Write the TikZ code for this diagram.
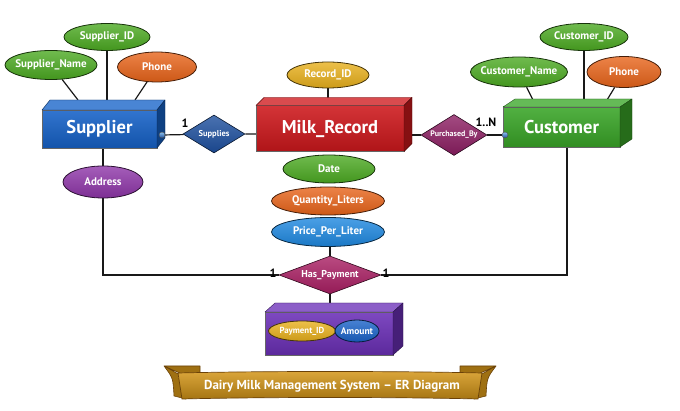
\documentclass[tikz,border=0pt]{standalone}
\usepackage{fontspec}
\setmainfont{PT Sans}
\usetikzlibrary{shapes.geometric, backgrounds, positioning}

\definecolor{supC}{RGB}{22,98,200}
\definecolor{milkC}{RGB}{206,24,28}
\definecolor{custC}{RGB}{58,166,40}
\definecolor{payC}{RGB}{108,48,184}
\definecolor{attrGreen}{RGB}{76,170,34}
\definecolor{attrOrange}{RGB}{232,100,26}
\definecolor{attrGold}{RGB}{232,176,28}
\definecolor{attrPurple}{RGB}{142,53,168}
\definecolor{attrBlue}{RGB}{30,136,224}
\definecolor{attrNavy}{RGB}{26,98,200}
\definecolor{relBlue}{RGB}{29,79,158}
\definecolor{relPlum}{RGB}{140,30,98}
\definecolor{relRose}{RGB}{168,30,98}
\definecolor{bannerC}{RGB}{212,150,24}
\definecolor{bannerLine}{RGB}{107,66,8}

\tikzset{
  entbox/.style = {rectangle, outer sep=0pt, inner sep=0pt, draw=black!60,
                   text=white, font=\fontsize{18.5}{20}\selectfont\bfseries},
  attr/.style   = {ellipse, inner sep=0pt, inner xsep=-4pt, line width=0.8pt,
                   text=white, font=\fontsize{11}{13}\selectfont\bfseries},
  rel/.style    = {diamond, aspect=2, inner sep=0pt, line width=0.6pt,
                   text=white, font=\fontsize{8.5}{10}\selectfont\bfseries},
  glossy/.style = {top color=#1!80!white, bottom color=#1!88!black,
                   draw=#1!30!black},
  card/.style   = {font=\fontsize{12}{14}\selectfont\bfseries, inner sep=1pt},
  link/.style   = {line width=1.2pt, black!90},
  jdot/.style   = {circle, inner sep=0pt, minimum size=6pt,
                   top color=attrBlue!50!white, bottom color=relBlue,
                   draw=black!70, line width=0.4pt}
}

% 3-D entity block: name, x, y, width, height, colour, label, depth x, depth y
\newcommand{\drawentity}[9]{%
  \node[entbox, top color=#6!88!white, bottom color=#6!85!black,
        minimum width=#4, minimum height=#5] (#1) at (#2,#3) {#7};
  \fill[#6!78!white, draw=#6!45!black, line join=round]
    (#1.north west) -- ++(#8,-#9) -- ([shift={(#8,-#9)}]#1.north east)
    -- (#1.north east) -- cycle;
  \fill[#6!65!black, draw=#6!40!black, line join=round]
    (#1.north east) -- ++(#8,-#9) -- ([shift={(#8,-#9)}]#1.south east)
    -- (#1.south east) -- cycle;
}

\begin{document}
\begin{tikzpicture}[x=1pt, y=-1pt]
  \useasboundingbox (0,0) rectangle (680,411);

  %% ── Entities ──────────────────────────────────────────────────
  \drawentity{supplier}{99.5}{129}{115pt}{38pt}{supC}{Supplier}{8}{10}
  \drawentity{milkrec}{330}{128.5}{148pt}{46pt}{milkC}{Milk\_Record}{8}{8}
  \drawentity{customer}{561.5}{127}{117pt}{40pt}{custC}{Customer}{12}{8}
  \drawentity{payment}{329}{333.5}{128pt}{43pt}{payC}{}{10}{9}

  \node[jdot] (sdot) at (162,135) {};
  \node[jdot] (cdot) at (505,135) {};

  %% ── Supplier attributes ───────────────────────────────────────
  \node[attr, glossy=attrGreen, minimum width=86pt, minimum height=27pt]
    (supid) at (107,37) {Supplier\_ID};
  \node[attr, glossy=attrGreen, minimum width=92pt, minimum height=29pt]
    (supname) at (51,65) {Supplier\_Name};
  \node[attr, glossy=attrOrange, minimum width=79pt, minimum height=30pt]
    (supphone) at (157,67) {Phone};
  \node[attr, glossy=attrPurple, minimum width=80pt, minimum height=32pt]
    (address) at (103,182) {Address};

  %% ── Milk_Record attributes ────────────────────────────────────
  \node[attr, glossy=attrGold, minimum width=82pt, minimum height=26pt]
    (recid) at (328,75) {Record\_ID};
  \node[attr, glossy=attrGreen, minimum width=92pt, minimum height=28pt]
    (date) at (329,169) {Date};
  \node[attr, glossy=attrOrange, minimum width=113pt, minimum height=28pt]
    (qty) at (328,201) {Quantity\_Liters};
  \node[attr, glossy=attrBlue, minimum width=113pt, minimum height=29pt]
    (price) at (328,232) {Price\_Per\_Liter};

  %% ── Customer attributes ───────────────────────────────────────
  \node[attr, glossy=attrGreen, minimum width=88pt, minimum height=27pt]
    (custid) at (584,37) {Customer\_ID};
  \node[attr, glossy=attrGreen, minimum width=93pt, minimum height=30pt]
    (custname) at (519,72) {Customer\_Name};
  \node[attr, glossy=attrOrange, minimum width=74pt, minimum height=31pt]
    (custphone) at (624,72) {Phone};

  %% ── Payment attributes ────────────────────────────────────────
  \node[attr, glossy=attrGold, minimum width=67pt, minimum height=20pt,
        font=\fontsize{8.8}{10}\selectfont\bfseries]
    (payid) at (302,331) {Payment\_ID};
  \node[attr, glossy=attrNavy, minimum width=44pt, minimum height=22pt,
        font=\fontsize{9.5}{11}\selectfont\bfseries]
    (amount) at (357,331) {Amount};

  %% ── Relationships ─────────────────────────────────────────────
  \node[rel, glossy=relBlue, minimum width=62pt, minimum height=38pt]
    (supplies) at (214,134) {Supplies};
  \node[rel, glossy=relPlum, minimum width=66pt, minimum height=41pt,
        font=\fontsize{8}{10}\selectfont\bfseries]
    (purchased) at (454,135) {Purchased\_By};
  \node[rel, glossy=relRose, minimum width=102pt, minimum height=38pt,
        font=\fontsize{10}{12}\selectfont\bfseries]
    (haspay) at (330,275) {Has\_Payment};

  %% ── Cardinalities ─────────────────────────────────────────────
  \node[card] (c1) at (185,123) {1};
  \node[card] (c2) at (486,122) {1..N};
  \node[card] (c3) at (273,273) {1};
  \node[card] (c4) at (386,273) {1};

  %% ── Title banner ──────────────────────────────────────────────
  \fill[bannerC!75!black, draw=bannerLine, line width=0.6pt, line join=round]
    (164,366) -- (200,366) -- (200,375) -- (180,375) -- cycle
    (164,366) .. controls (173,378) .. (174,396) -- (186,399) -- (182,374) -- cycle;
  \fill[bannerC!75!black, draw=bannerLine, line width=0.6pt, line join=round]
    (496,366) -- (460,366) -- (460,375) -- (480,375) -- cycle
    (496,366) .. controls (487,378) .. (486,396) -- (474,399) -- (478,374) -- cycle;
  \path[top color=bannerC!85!white, bottom color=bannerC!78!black,
        draw=bannerLine, line width=0.7pt]
    (178,373) .. controls (260,371) and (400,371) .. (482,373)
    -- (478,399) .. controls (400,397) and (260,397) .. (182,399) -- cycle;
  \node[text=white, font=\fontsize{13}{15}\selectfont\bfseries]
    (banner) at (332,386) {Dairy Milk Management System – ER Diagram};

  %% ── Connectors ────────────────────────────────────────────────
  \begin{scope}[on background layer]
    \draw[link] (supid) -- (supid |- supplier.center);
    \draw[link] (supname) -- ([shift={(36,-10)}]supplier.north west);
    \draw[link] (supphone) -- ([shift={(-22,-10)}]supplier.north east);
    \draw[link] (address) -- (address |- supplier.center);
    \draw[link] (address) |- (haspay);
    \draw[link] (sdot) -- (supplies) -- (supplies -| milkrec);
    \draw[link] (recid) -- (recid |- milkrec.center);
    \draw[link] (milkrec.center |- purchased) -- (purchased) -- (cdot);
    \draw[link] (custid) -- (custid |- customer.center);
    \draw[link] (custname) -- ([shift={(30,-7)}]customer.north west);
    \draw[link] (custphone) -- ([shift={(-13,-7)}]customer.north east);
    \draw[link] ([xshift=5.5pt]customer.center) |- (haspay);
    \draw[link] (haspay) -- (haspay |- price);
    \draw[link] (haspay) -- (haspay |- payment.center);
  \end{scope}

\end{tikzpicture}
\end{document}
